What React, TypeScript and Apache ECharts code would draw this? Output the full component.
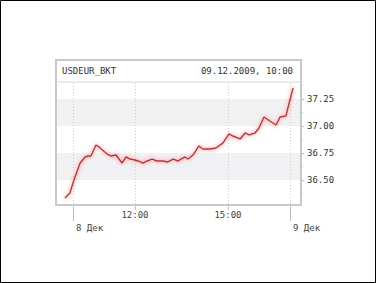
import React, { useEffect, useRef } from "react";
import * as echarts from "echarts";

const times: number[] = [
  9.74, 9.9, 10.03, 10.23, 10.39, 10.48, 10.58, 10.74, 10.84, 11.1, 11.23, 11.39, 11.58, 11.71, 11.84,
  12.0, 12.1, 12.26, 12.39, 12.55, 12.71, 12.9, 13.06, 13.23, 13.39, 13.61, 13.71, 13.87, 14.06, 14.19,
  14.42, 14.61, 14.84, 15.03, 15.16, 15.39, 15.55, 15.68, 15.87, 16.0, 16.16, 16.35, 16.55, 16.68,
  16.87, 16.94, 17.1,
];
const rates: number[] = [
  36.333, 36.38, 36.5, 36.657, 36.713, 36.722, 36.722, 36.824, 36.806, 36.741, 36.722, 36.731, 36.657,
  36.713, 36.694, 36.685, 36.676, 36.657, 36.676, 36.694, 36.676, 36.676, 36.667, 36.694, 36.676,
  36.713, 36.694, 36.731, 36.815, 36.787, 36.787, 36.796, 36.843, 36.926, 36.907, 36.88, 36.935,
  36.917, 36.935, 36.981, 37.083, 37.046, 37.009, 37.083, 37.093, 37.176, 37.352,
];
const rateTicks: number[] = [36.5, 36.75, 37.0, 37.25];
const rateTickLabels: string[] = ["36.50", "36.75", "37.00", "37.25"];
const timeTicks: number[] = [12, 15];
const timeTickLabels: string[] = ["12:00", "15:00"];
const dayTicks: number[] = [10, 17];
const dayTickLabels: string[] = ["8 Дек", "9 Дек"];
const gridTimes: number[] = [10, 12, 15, 17];
const title = "USDEUR_BKT";
const stamp = "09.12.2009, 10:00";

export default function App() {
  const ref = useRef<HTMLDivElement>(null);
  useEffect(() => {
    document.body.style.margin = "0";
    const chart = echarts.init(ref.current!, null, { renderer: "svg" });
    const font = "'DejaVu Sans Mono', monospace";
    const bands = [
      [rateTicks[0], rateTicks[1]],
      [rateTicks[2], rateTicks[3]],
    ];
    chart.setOption({
      animation: false,
      backgroundColor: "#ffffff",
      grid: { left: 56, right: 75, top: 82, bottom: 76 },
      xAxis: [
        {
          type: "value",
          min: 9.452,
          max: 17.355,
          axisLine: { show: false },
          splitLine: { show: false },
          axisTick: { show: true, customValues: timeTicks, length: 3, lineStyle: { color: "#bbbbbb" } },
          axisLabel: {
            customValues: timeTicks,
            formatter: (v: number) => timeTickLabels[timeTicks.indexOf(v)] ?? "",
            fontFamily: font,
            fontSize: 9,
            color: "#444444",
            margin: 3,
          },
        },
        {
          type: "value",
          position: "bottom",
          min: 9.452,
          max: 17.355,
          axisLine: { show: false },
          splitLine: { show: false },
          axisTick: { show: true, customValues: dayTicks, length: 14, lineStyle: { color: "#bbbbbb" } },
          axisLabel: {
            customValues: dayTicks,
            formatter: (v: number) => dayTickLabels[dayTicks.indexOf(v)] ?? "",
            fontFamily: font,
            fontSize: 9,
            color: "#444444",
            align: "left",
            padding: [0, 0, 0, 3],
            margin: 16,
          },
        },
      ],
      yAxis: {
        type: "value",
        position: "right",
        min: 36.25,
        max: 37.407,
        interval: 0.25,
        axisLine: { show: false },
        axisTick: { show: true, customValues: rateTicks, length: 3, lineStyle: { color: "#bbbbbb" } },
        minorTick: { show: true, splitNumber: 2, length: 2, lineStyle: { color: "#d4d4d4" } },
        splitLine: { show: false },
        splitArea: { show: false },
        axisLabel: {
          customValues: rateTicks,
          formatter: (v: number) => rateTickLabels[rateTicks.indexOf(v)] ?? "",
          fontFamily: font,
          fontSize: 9,
          color: "#333333",
          margin: 6,
        },
      },
      series: [
        {
          type: "line",
          data: times.map((t, i) => [t, rates[i]]),
          showSymbol: false,
          lineStyle: {
            color: "#d42a30",
            width: 1.4,
            shadowColor: "rgba(240,100,100,0.8)",
            shadowBlur: 4,
          },
          z: 5,
          markArea: {
            silent: true,
            itemStyle: { color: "#f1f1f3" },
            data: bands.map(([a, b]) => [{ yAxis: a }, { yAxis: b }]),
          },
          markLine: {
            silent: true,
            symbol: "none",
            label: { show: false },
            lineStyle: { color: "#cfcfcf", type: [1, 2], width: 1 },
            data: gridTimes.map((t) => ({ xAxis: t })),
          },
        },
      ],
      graphic: [
        {
          type: "rect",
          shape: { x: 0.5, y: 0.5, width: 375, height: 282 },
          style: { fill: "none", stroke: "#000000", lineWidth: 1 },
          silent: true,
        },
        {
          type: "rect",
          shape: { x: 56, y: 60, width: 245, height: 22 },
          style: { fill: "#ffffff", stroke: "none" },
          silent: true,
        },
        {
          type: "rect",
          shape: { x: 56, y: 60, width: 245, height: 145 },
          style: { fill: "none", stroke: "#c8c8c8", lineWidth: 2 },
          silent: true,
          z: 10,
        },
        {
          type: "line",
          shape: { x1: 56, y1: 82, x2: 301, y2: 82 },
          style: { stroke: "#d8d8d8", lineWidth: 1 },
          silent: true,
          z: 10,
        },
        {
          type: "text",
          x: 62,
          y: 71,
          style: { text: title, font: `9px ${font}`, fill: "#333333", textVerticalAlign: "middle" },
          silent: true,
          z: 10,
        },
        {
          type: "text",
          x: 293,
          y: 71,
          style: {
            text: stamp,
            font: `9px ${font}`,
            fill: "#333333",
            textAlign: "right",
            textVerticalAlign: "middle",
          },
          silent: true,
          z: 10,
        },
      ],
    });
    return () => chart.dispose();
  }, []);
  return <div ref={ref} style={{ width: 376, height: 283 }} />;
}
